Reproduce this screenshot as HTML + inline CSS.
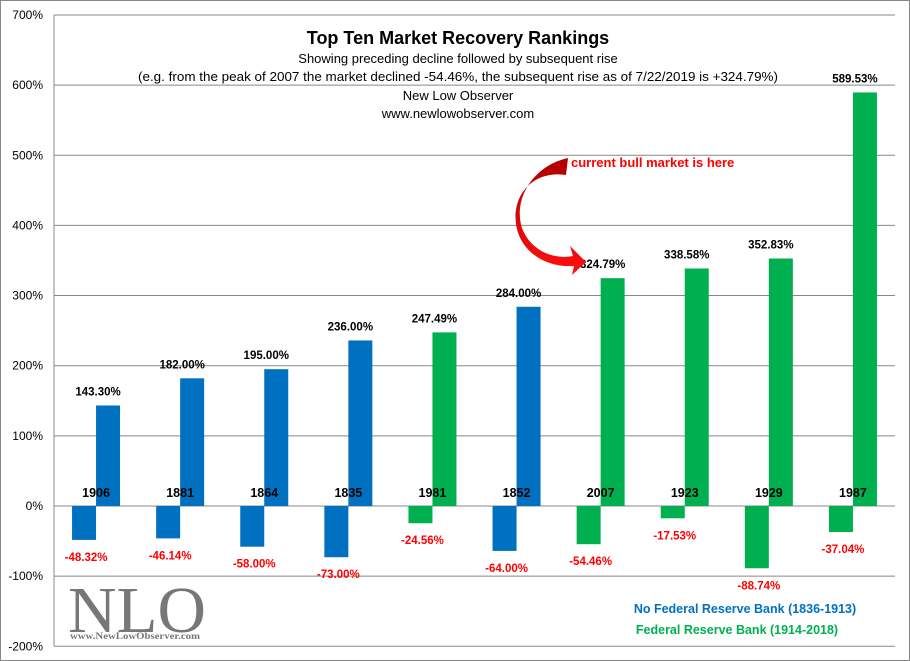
<!DOCTYPE html>
<html><head><meta charset="utf-8"><style>
body{margin:0;background:#fff}
svg{display:block;font-family:"Liberation Sans",Calibri,sans-serif}
</style></head><body>
<svg id="c" width="910" height="661">
<rect x="0.5" y="0.5" width="909" height="660" fill="#fff" stroke="#888"/>
<g id="grid"></g>
<g id="ylab"></g>
<g id="bars"></g>
<g text-anchor="middle" fill="#000">
<text x="458" y="44" font-size="18" font-weight="bold">Top Ten Market Recovery Rankings</text>
<text x="458" y="63" font-size="13">Showing preceding decline followed by subsequent rise</text>
<text x="458" y="81" font-size="13" textLength="640" lengthAdjust="spacingAndGlyphs">(e.g. from the peak of 2007  the market declined -54.46%, the subsequent rise as of 7/22/2019 is +324.79%)</text>
<text x="458" y="100" font-size="13">New Low Observer</text>
<text x="458" y="118" font-size="13">www.newlowobserver.com</text>
</g>
<defs><linearGradient id="ag" x1="0" y1="0" x2="0" y2="1"><stop offset="0" stop-color="#b00000"/><stop offset="1" stop-color="#ff1010"/></linearGradient></defs>
<path d="M568,158 C532,166 513,200 522,228 C530,250 553,260 573,256 L570,246 L586,262 L572,275 L574,266 C546,268 520,252 516,224 C512,194 534,170 566,175 Z" fill="url(#ag)"/>
<text x="571" y="167" font-size="13" font-weight="bold" fill="#ff0000">current bull market is here</text>
<g>
<text x="68" y="632" font-family="Liberation Serif,serif" font-size="66" fill="#777" textLength="138" lengthAdjust="spacingAndGlyphs">NLO</text>
<text x="70" y="639" font-family="Liberation Serif,serif" font-size="9" font-weight="bold" fill="#777" textLength="130" lengthAdjust="spacingAndGlyphs">www.NewLowObserver.com</text>
</g>
<text x="745" y="613" font-size="12.5" font-weight="bold" fill="#0070c0" text-anchor="middle">No Federal Reserve Bank (1836-1913)</text>
<text x="737" y="634" font-size="12.5" font-weight="bold" fill="#00b050" text-anchor="middle">Federal Reserve Bank (1914-2018)</text>
</svg>
<script>
const years=["1906","1881","1864","1835","1981","1852","2007","1923","1929","1987"];
const declines=[-48.32,-46.14,-58.00,-73.00,-24.56,-64.00,-54.46,-17.53,-88.74,-37.04];
const rises=[143.30,182.00,195.00,236.00,247.49,284.00,324.79,338.58,352.83,589.53];
const fedEra=[false,false,false,false,true,false,true,true,true,true];
const yTicks=[-200,-100,0,100,200,300,400,500,600,700];
const NS="http://www.w3.org/2000/svg";
const L=54,R=895,y0=506,pp=0.7015;
const Y=v=>y0-v*pp;
const bw=(R-L)/years.length;
const X=i=>L+bw*(i+0.5);
function mk(t,a,p){const e=document.createElementNS(NS,t);for(const k in a)e.setAttribute(k,a[k]);p.appendChild(e);return e;}
const g=document.getElementById('grid'),yl=document.getElementById('ylab'),b=document.getElementById('bars');
yTicks.forEach(t=>{
 const l=mk('line',{x1:L,x2:R,y1:Y(t),y2:Y(t),stroke:'#888','stroke-width':1},g);
 
 
 const tx=mk('text',{x:43,y:Y(t)+4,'font-size':12,'text-anchor':'end',fill:'#000'},yl);
 tx.textContent=t+'%';
 
 
});
const ax=mk('line',{x1:L,x2:L,y1:Y(700),y2:Y(-200),stroke:'#888'},g);


years.forEach((yr,i)=>{
 const c=X(i),col=fedEra[i]?'#00b050':'#0070c0';
 const d=mk('rect',{x:c-24,y:y0,width:24,height:Y(declines[i])-y0,fill:col},b);
 
 
 const r=mk('rect',{x:c,y:Y(rises[i]),width:24,height:y0-Y(rises[i]),fill:col},b);
 
 
 const t1=mk('text',{x:c,y:y0-9,'font-size':12.5,'font-weight':'bold','text-anchor':'middle'},b);
 t1.textContent=yr;
 
 
 const t2=mk('text',{x:c-10,y:Y(declines[i])+21,'font-size':11.5,'font-weight':'bold',fill:'#ff0000','text-anchor':'middle'},b);
 t2.textContent=declines[i].toFixed(2)+'%';
 
 
 const t3=mk('text',{x:c+2,y:Y(rises[i])-10,'font-size':11.5,'font-weight':'bold','text-anchor':'middle'},b);
 t3.textContent=rises[i].toFixed(2)+'%';
 
 
});
</script>
</body></html>
